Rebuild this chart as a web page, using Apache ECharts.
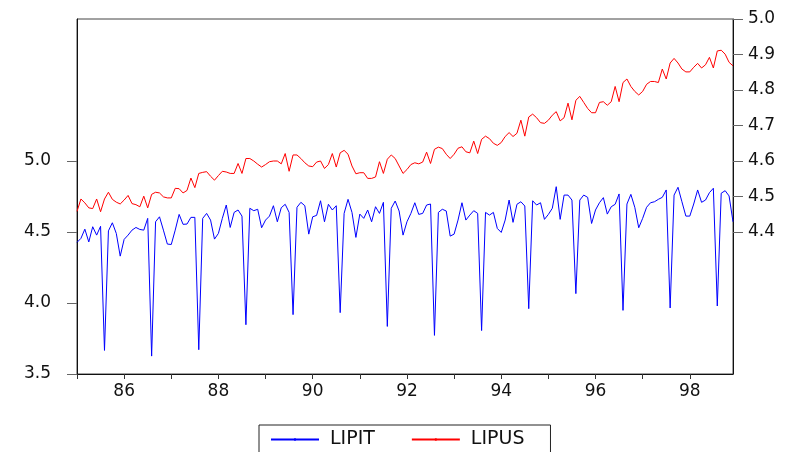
<!DOCTYPE html>
<html>
<head>
<meta charset="utf-8">
<script src="https://cdn.jsdelivr.net/npm/echarts@6/dist/echarts.min.js"></script>
<style>
html,body{margin:0;padding:0;background:#fff;}
#chart{width:792px;height:452px;}
</style>
</head>
<body>
<div id="chart"></div>
<script>
// Monthly observations 1985M01 .. 1998M12
var startYear = 1985;
var endYear = 1998;
var months = [];
for (var y = startYear; y <= endYear; y++) {
  for (var m = 1; m <= 12; m++) {
    months.push(y + 'M' + (m < 10 ? '0' + m : m));
  }
}

var lipit = [
  4.427, 4.455, 4.52, 4.43, 4.537, 4.478, 4.54, 3.666, 4.508, 4.565, 4.49, 4.33,
  4.448, 4.478, 4.513, 4.532, 4.518, 4.513, 4.596, 3.626, 4.572, 4.607, 4.513, 4.415,
  4.412, 4.513, 4.624, 4.554, 4.556, 4.603, 4.603, 3.671, 4.596, 4.631, 4.584, 4.45,
  4.49, 4.596, 4.69, 4.532, 4.638, 4.655, 4.612, 3.847, 4.667, 4.65, 4.66, 4.53,
  4.584, 4.612, 4.685, 4.572, 4.671, 4.695, 4.638, 3.918, 4.674, 4.709, 4.685, 4.485,
  4.607, 4.617, 4.72, 4.572, 4.695, 4.655, 4.685, 3.932, 4.631, 4.73, 4.638, 4.462,
  4.626, 4.596, 4.655, 4.572, 4.678, 4.631, 4.709, 3.835, 4.667, 4.718, 4.648, 4.478,
  4.572, 4.631, 4.706, 4.624, 4.631, 4.69, 4.697, 3.772, 4.638, 4.66, 4.648, 4.471,
  4.485, 4.584, 4.706, 4.584, 4.619, 4.65, 4.631, 3.806, 4.638, 4.619, 4.638, 4.525,
  4.497, 4.584, 4.725, 4.568, 4.695, 4.713, 4.683, 3.96, 4.72, 4.69, 4.706, 4.589,
  4.624, 4.667, 4.819, 4.589, 4.76, 4.76, 4.725, 4.066, 4.725, 4.76, 4.744, 4.56,
  4.655, 4.706, 4.742, 4.626, 4.678, 4.695, 4.768, 3.948, 4.697, 4.765, 4.674, 4.53,
  4.596, 4.674, 4.706, 4.713, 4.73, 4.744, 4.796, 3.965, 4.76, 4.815, 4.713, 4.612,
  4.612, 4.697, 4.796, 4.709, 4.725, 4.777, 4.808, 3.979, 4.773, 4.791, 4.754, 4.572
];

var lipus = [
  4.458, 4.493, 4.482, 4.468, 4.466, 4.493, 4.457, 4.493, 4.512, 4.492, 4.484, 4.479,
  4.49, 4.503, 4.48, 4.477, 4.471, 4.501, 4.468, 4.506, 4.512, 4.51, 4.499, 4.496,
  4.496, 4.523, 4.522, 4.51, 4.517, 4.552, 4.525, 4.565, 4.568, 4.57, 4.557, 4.546,
  4.559, 4.571, 4.569, 4.565, 4.565, 4.593, 4.565, 4.607, 4.607, 4.6, 4.591, 4.583,
  4.59, 4.598, 4.6, 4.6, 4.592, 4.621, 4.571, 4.617, 4.617, 4.607, 4.595, 4.586,
  4.584, 4.597, 4.6, 4.579, 4.59, 4.621, 4.583, 4.623, 4.63, 4.619, 4.586, 4.564,
  4.567, 4.567, 4.551, 4.551, 4.555, 4.598, 4.565, 4.605, 4.617, 4.607, 4.586, 4.565,
  4.576, 4.59, 4.595, 4.592, 4.597, 4.625, 4.593, 4.633, 4.639, 4.635, 4.619, 4.607,
  4.619, 4.636, 4.64, 4.626, 4.623, 4.656, 4.621, 4.661, 4.67, 4.663, 4.65, 4.644,
  4.652, 4.669, 4.68, 4.669, 4.678, 4.715, 4.67, 4.724, 4.732, 4.722, 4.708, 4.706,
  4.715, 4.729, 4.739, 4.713, 4.722, 4.763, 4.716, 4.771, 4.782, 4.765, 4.748, 4.736,
  4.736, 4.765, 4.767, 4.757, 4.767, 4.81, 4.767, 4.821, 4.831, 4.81, 4.796, 4.786,
  4.796, 4.816, 4.824, 4.824, 4.821, 4.859, 4.831, 4.876, 4.889, 4.876, 4.859, 4.851,
  4.851, 4.864, 4.875, 4.862, 4.871, 4.892, 4.862, 4.91, 4.912, 4.901, 4.878, 4.868
];

var leftTicks = [3.5, 4.0, 4.5, 5.0];
var rightTicks = [4.4, 4.5, 4.6, 4.7, 4.8, 4.9, 5.0];

var FONT = 'DejaVu Sans';
var chart = echarts.init(document.getElementById('chart'), null, {renderer: 'canvas'});

chart.setOption({
  animation: false,
  backgroundColor: '#ffffff',
  grid: {
    left: 77, right: 59, top: 19, bottom: 78,
    show: true, borderColor: '#444', borderWidth: 1, backgroundColor: 'transparent'
  },
  legend: {
    left: 259, top: 425,
    padding: [5, 26, 24, 11],
    itemGap: 36,
    itemWidth: 48,
    itemHeight: 3,
    borderColor: '#222',
    borderWidth: 1,
    textStyle: {fontFamily: FONT, fontSize: 19, color: '#111', padding: [0, 0, 0, 6]},
    data: ['LIPIT', 'LIPUS']
  },
  xAxis: {
    type: 'category',
    data: months,
    boundaryGap: false,
    axisLine: {show: true, lineStyle: {color: '#111', width: 1}},
    axisTick: {
      show: true, length: 5, lineStyle: {color: '#333'},
      interval: function (idx) { return idx % 12 === 0; }
    },
    axisLabel: {
      interval: function (idx, val) {
        var yr = parseInt(val.slice(0, 4), 10);
        return idx % 12 === 0 && yr % 2 === 0;
      },
      formatter: function (val) { return val.slice(2, 4); },
      fontFamily: FONT, fontSize: 17, color: '#111', margin: 9
    },
    splitLine: {show: false}
  },
  yAxis: [
    {
      type: 'value', position: 'left',
      min: 3.5, max: 6.0, interval: 0.5,
      axisLine: {show: true, lineStyle: {color: '#111', width: 1}},
      axisTick: {show: true, length: 10, lineStyle: {color: '#666'}, customValues: leftTicks},
      axisLabel: {
        customValues: leftTicks,
        formatter: function (v) { return v > 5.001 ? '' : v.toFixed(1); },
        fontFamily: FONT, fontSize: 17, color: '#111', margin: 26
      },
      splitLine: {show: false}
    },
    {
      type: 'value', position: 'right',
      min: 4.0, max: 5.0, interval: 0.1,
      axisLine: {show: true, lineStyle: {color: '#111', width: 1}},
      axisTick: {show: true, length: 10, lineStyle: {color: '#666'}, customValues: rightTicks},
      axisLabel: {
        customValues: rightTicks,
        formatter: function (v) { return v < 4.399 ? '' : v.toFixed(1); },
        fontFamily: FONT, fontSize: 17, color: '#111', margin: 15
      },
      splitLine: {show: false}
    }
  ],
  series: [
    {
      name: 'LIPIT', type: 'line', yAxisIndex: 0, data: lipit,
      symbol: 'none', lineStyle: {color: '#0000ff', width: 1}, itemStyle: {color: '#0000ff'}
    },
    {
      name: 'LIPUS', type: 'line', yAxisIndex: 1, data: lipus,
      symbol: 'none', lineStyle: {color: '#ff0000', width: 1}, itemStyle: {color: '#ff0000'}
    }
  ]
});
</script>
</body>
</html>
